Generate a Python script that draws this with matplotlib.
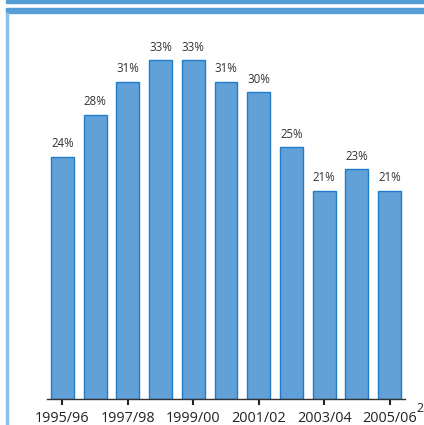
import matplotlib.pyplot as plt
from matplotlib.patches import Rectangle

# ── data ─────────────────────────────────────────────
years = ["1995/96", "1996/97", "1997/98", "1998/99", "1999/00", "2000/01",
         "2001/02", "2002/03", "2003/04", "2004/05", "2005/06"]
shares = [23.6, 27.7, 30.9, 33.0, 33.0, 30.9, 29.9, 24.5, 20.3, 22.4, 20.3]
share_labels = ["24%", "28%", "31%", "33%", "33%", "31%", "30%", "25%", "21%", "23%", "21%"]

plt.rcParams["font.family"] = ["Open Sans", "DejaVu Sans"]

fig = plt.figure(figsize=(4.24, 4.25), dpi=100)
W, H = 424, 425

# frame decorations (blue bands + left rule)
fig.patches.append(Rectangle((6 / W, 1 - 3 / H), 1, 3 / H, transform=fig.transFigure,
                             color="#559fd8", zorder=0))
fig.patches.append(Rectangle((6 / W, 1 - 13 / H), 1, 5 / H, transform=fig.transFigure,
                             color="#559fd8", zorder=0))
fig.patches.append(Rectangle((6 / W, 0), 2 / W, 1 - 13 / H, transform=fig.transFigure,
                             color="#8cbfe8", zorder=0))

ax = fig.add_axes([47 / W, 26 / H, (405 - 47) / W, (399 - 20) / H])
x = range(len(years))
bars = ax.bar(x, shares, width=0.7, color="#62a0d8", edgecolor="#1f7ccb", linewidth=1.0)

for bar, lab in zip(bars, share_labels):
    ax.text(bar.get_x() + bar.get_width() / 2, bar.get_height() + 0.6, lab,
            ha="center", va="bottom", fontsize=8.3, color="#333333")

ax.set_xlim(-0.47, len(years) - 0.53)
ax.set_ylim(0, (399 - 20) / 10.27)
ax.set_xticks(list(x)[::2])
ax.set_xticklabels(years[::2], fontsize=10.4, color="#222222")
ax.tick_params(axis="x", length=4, width=1.5, color="#222222", pad=5)
ax.set_yticks([])
for s in ["top", "right", "left"]:
    ax.spines[s].set_visible(False)
ax.spines["bottom"].set_color("#333333")
ax.spines["bottom"].set_linewidth(1.0)

fig.text(416 / W, 1 - 408 / H, "2", fontsize=9, color="#222222", ha="left", va="center")

fig.savefig("out.png", dpi=100)
